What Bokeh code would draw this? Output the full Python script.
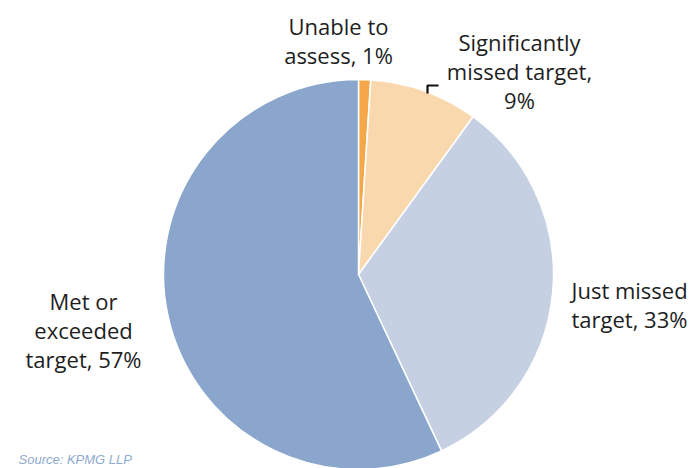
from math import pi
from bokeh.plotting import figure
from bokeh.models import Range1d, ColumnDataSource
from bokeh.core.properties import value
from bokeh.embed import file_html
from bokeh.resources import INLINE

categories = ["Unable to assess", "Significantly missed target", "Just missed target", "Met or exceeded target"]
shares = [1, 9, 33, 57]
colors = ["#F4A84A", "#F9D8AE", "#C5D0E2", "#8AA6CC"]
label_lines = [
    ["Unable to", "assess, 1%"],
    ["Significantly", "missed target,", "9%"],
    ["Just missed", "target, 33%"],
    ["Met or", "exceeded", "target, 57%"],
]

W, H = 700, 468
p = figure(width=W, height=H, output_backend="svg", toolbar_location=None,
           x_range=Range1d(0, W), y_range=Range1d(0, H), min_border=0)
p.axis.visible = False
p.grid.visible = False
p.outline_line_color = None
p.background_fill_color = "white"

def Y(y):
    return H - y

total = sum(shares)
starts, ends = [], []
a = pi / 2
for s in shares:
    b = a - s / total * 2 * pi
    starts.append(a)
    ends.append(b)
    a = b

cx, cy, r = 358, Y(274), 195
src = ColumnDataSource(dict(start=starts, end=ends, color=colors, cat=categories))
p.wedge(x=cx, y=cy, radius=r, start_angle="end", end_angle="start", direction="anticlock",
        fill_color="color", line_color="white", line_width=1.5, source=src)

# label anchors (layout): x, first-line y, align
anchors = [(338, 25, "center"), (519, 41, "center"), (571, 289, "left"), (83, 300, "center")]
lh = 29
xs, ys, ts, al = [], [], [], []
for (x0, y0, align), lines in zip(anchors, label_lines):
    for i, t in enumerate(lines):
        xs.append(x0)
        ys.append(Y(y0 + i * lh))
        ts.append(t)
        al.append(align)
lsrc = ColumnDataSource(dict(x=xs, y=ys, t=ts, a=al))
p.text(x="x", y="y", text="t", text_align="a", text_baseline="middle",
       text_font=value("Open Sans"), text_font_size="22px", text_color="#1e1e1e", source=lsrc)

# leader line for the 9% label
p.line(x=[427, 427, 438], y=[Y(93), Y(85), Y(85)], line_color="#111111", line_width=2.2)

p.text(x=[18], y=[Y(459)], text=["Source: KPMG LLP"], text_baseline="middle",
       text_font=value("Liberation Sans"), text_font_size="13px", text_font_style="italic",
       text_color="#8FA9D0")

open("out.html", "w").write(file_html(p, INLINE))
